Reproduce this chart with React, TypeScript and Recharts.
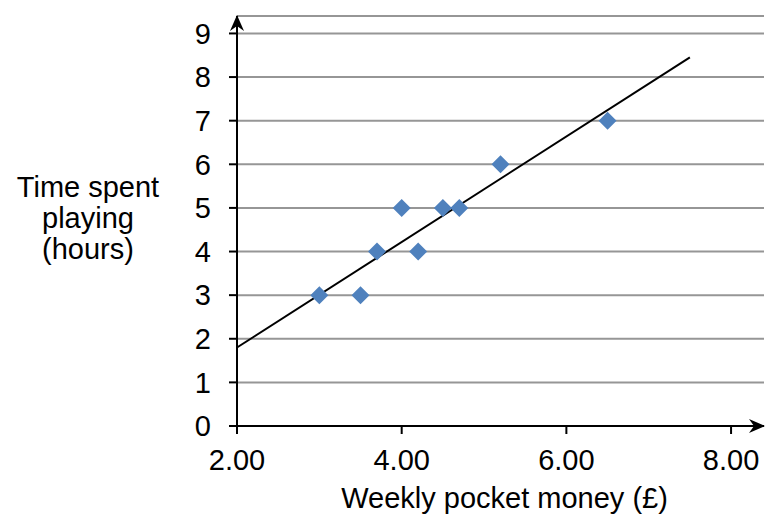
import React from "react";
import {
  ScatterChart,
  Scatter,
  XAxis,
  YAxis,
  CartesianGrid,
  ReferenceLine,
} from "recharts";

// ---- data ----
const pocketMoney = [3, 3.5, 3.7, 4, 4.2, 4.5, 4.7, 5.2, 6.5];
const hoursPlaying = [3, 3, 4, 5, 4, 5, 5, 6, 7];
const trendX = [2, 7.5];
const trendY = [1.8, 8.45];
const xTicks = [2, 4, 6, 8];
const yTicks = [0, 1, 2, 3, 4, 5, 6, 7, 8, 9];
const xLabel = "Weekly pocket money (£)";
const yLabelLines = ["Time spent", "playing", "(hours)"];

const points = pocketMoney.map((x, i) => ({ x, y: hoursPlaying[i] }));

const FONT = "'Liberation Sans', Arial, sans-serif";

const Diamond = (props: any) => {
  const { cx, cy } = props;
  const r = 9;
  return (
    <polygon
      points={`${cx},${cy - r} ${cx + r},${cy} ${cx},${cy + r} ${cx - r},${cy}`}
      fill="#4F81BD"
    />
  );
};

const XLabel = (props: any) => {
  const vb = props.viewBox || {};
  return (
    <text
      x={vb.x + vb.width / 2 + 4}
      y={vb.y + 82}
      textAnchor="middle"
      fontSize={29}
      fontFamily={FONT}
      fill="#000"
    >
      {xLabel}
    </text>
  );
};

const YLabel = (props: any) => {
  const vb = props.viewBox || {};
  const top = vb.y;
  return (
    <text textAnchor="middle" fontSize={29} fontFamily={FONT} fill="#000">
      {yLabelLines.map((l, i) => (
        <tspan key={i} x={88} y={top + 181 + i * 31}>
          {l}
        </tspan>
      ))}
    </text>
  );
};

export default function App() {
  return (
    <div style={{ position: "absolute", left: 0, top: 0, width: 765, height: 518, background: "#fff" }}>
      <svg width={0} height={0} style={{ position: "absolute" }}>
        <defs>
          <marker
            id="axisArrow"
            viewBox="0 0 16 16"
            markerWidth={16}
            markerHeight={16}
            refX={15}
            refY={8}
            markerUnits="userSpaceOnUse"
            orient="auto-start-reverse"
          >
            <path d="M0,1 L16,8 L0,15 L5,8 z" fill="#000" />
          </marker>
        </defs>
      </svg>
      <ScatterChart
        width={765}
        height={518}
        margin={{ top: 16, right: 1, left: 0, bottom: 0 }}
        style={{ fontFamily: FONT }}
      >
        <CartesianGrid vertical={false} stroke="#969696" strokeWidth={2} />
        <XAxis
          type="number"
          dataKey="x"
          domain={[2, 8.4]}
          ticks={xTicks}
          allowDataOverflow
          height={92}
          tickFormatter={(v: number) => v.toFixed(2)}
          tick={{ fill: "#000", fontSize: 29, fontFamily: FONT }}
          tickSize={8}
          tickMargin={15}
          tickLine={{ stroke: "#000", strokeWidth: 2 }}
          axisLine={{ stroke: "#000", strokeWidth: 2, markerEnd: "url(#axisArrow)" } as any}
          label={<XLabel />}
        />
        <YAxis
          type="number"
          dataKey="y"
          domain={[0, 9.4]}
          ticks={yTicks}
          allowDataOverflow
          width={237}
          tick={{ fill: "#000", fontSize: 29, fontFamily: FONT }}
          tickSize={8}
          tickMargin={18}
          tickLine={{ stroke: "#000", strokeWidth: 2 }}
          axisLine={{ stroke: "#000", strokeWidth: 2, markerStart: "url(#axisArrow)" } as any}
          label={<YLabel />}
        />
        <ReferenceLine
          segment={[
            { x: trendX[0], y: trendY[0] },
            { x: trendX[1], y: trendY[1] },
          ]}
          stroke="#000"
          strokeWidth={2}
          ifOverflow="visible"
        />
        <Scatter data={points} shape={<Diamond />} isAnimationActive={false} />
      </ScatterChart>
    </div>
  );
}
